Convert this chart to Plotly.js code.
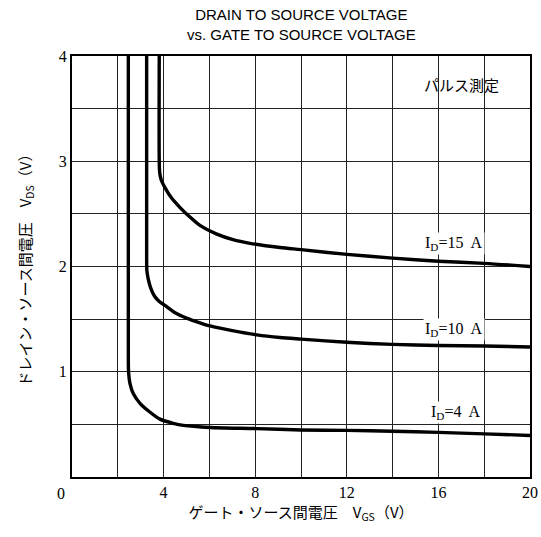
<!DOCTYPE html>
<html>
<head>
<meta charset="utf-8">
<script src="https://cdn.plot.ly/plotly-3.0.1.min.js"></script>
<style>html,body{margin:0;padding:0;background:#fff;}#chart{width:541px;height:537px;}</style>
</head>
<body>
<div id="chart"></div>
<script>
// V_GS (V) and V_DS (V)
const vgs_4A  = [2.46, 2.46, 2.47, 2.53, 2.68, 2.97, 3.41, 3.84, 4.42, 4.86, 6.03, 8.07, 10, 12, 14, 16, 18, 20];
const vds_4A  = [4.0, 1.2, 1.0, 0.89, 0.79, 0.70, 0.615, 0.55, 0.51, 0.49, 0.47, 0.46, 0.447, 0.443, 0.434, 0.424, 0.41, 0.395];

const vgs_10A = [3.26, 3.26, 3.27, 3.33, 3.43, 3.6, 3.8, 4.06, 4.5, 5.0, 5.59, 6.03, 7.0, 8.07, 9.08, 10, 12, 14, 16, 18, 20];
const vds_10A = [4.0, 2.1, 1.96, 1.88, 1.80, 1.72, 1.67, 1.63, 1.56, 1.51, 1.465, 1.435, 1.39, 1.35, 1.325, 1.31, 1.28, 1.26, 1.25, 1.245, 1.235];

const vgs_15A = [3.81, 3.81, 3.83, 3.9, 4.06, 4.35, 4.72, 5.1, 5.59, 6.3, 7.03, 7.77, 9.08, 10, 12, 14, 16, 18, 20];
const vds_15A = [4.0, 3.0, 2.89, 2.82, 2.75, 2.65, 2.56, 2.48, 2.39, 2.31, 2.255, 2.22, 2.18, 2.16, 2.115, 2.08, 2.05, 2.03, 2.0];

const curveLabels = ['I<sub>D</sub>=15  A', 'I<sub>D</sub>=10  A', 'I<sub>D</sub>=4  A'];
const labelX = [16.7, 16.7, 16.77];
const labelY = [2.22, 1.40, 0.61];

const xTickVals = [4, 8, 12, 16, 20];
const yTickVals = [1, 2, 3, 4];
const cornerLabel = '0';
const noteText = 'パルス測定';
const noteX = 17.03, noteY = 3.73;

const titleText = 'DRAIN TO SOURCE VOLTAGE<br>vs. GATE TO SOURCE VOLTAGE';
const xTitle = 'ゲート・ソース間電圧　V<sub>GS</sub>（V）';
const yTitle = 'ドレイン・ソース間電圧　V<sub>DS</sub>（V）';

const lineStyle = {color: '#000', width: 3.4, shape: 'spline', smoothing: 0.8};
const traces = [
  {x: vgs_15A, y: vds_15A, mode: 'lines', line: lineStyle, hoverinfo: 'skip'},
  {x: vgs_10A, y: vds_10A, mode: 'lines', line: lineStyle, hoverinfo: 'skip'},
  {x: vgs_4A,  y: vds_4A,  mode: 'lines', line: lineStyle, hoverinfo: 'skip'}
];

const serif = 'Liberation Serif, DejaVu Serif, serif';
const jp = 'Noto Sans CJK JP, sans-serif';

const annotations = curveLabels.map((t, i) => ({
  x: labelX[i], y: labelY[i], xref: 'x', yref: 'y', text: t, showarrow: false,
  font: {family: serif, size: 16, color: '#000'}, bgcolor: '#fff', borderpad: 1,
  xanchor: 'center', yanchor: 'middle'
}));
annotations.push({x: noteX, y: noteY, xref: 'x', yref: 'y', text: noteText, showarrow: false,
  font: {family: jp, size: 15, color: '#000'}, xanchor: 'center', yanchor: 'middle'});
annotations.push({x: 0, y: 0, xref: 'paper', yref: 'paper', text: cornerLabel, showarrow: false,
  xshift: -11, yshift: -16, font: {family: serif, size: 16, color: '#000'}, xanchor: 'center', yanchor: 'middle'});
annotations.push({x: 0.5, y: 1, xref: 'paper', yref: 'paper', text: titleText, showarrow: false,
  yshift: 11, xanchor: 'center', yanchor: 'bottom',
  font: {family: 'Liberation Sans, Arial, sans-serif', size: 15, color: '#000'}});

const layout = {
  width: 541, height: 537,
  margin: {l: 72, r: 11, t: 56, b: 60},
  paper_bgcolor: '#fff', plot_bgcolor: '#fff',
  showlegend: false,
  xaxis: {
    range: [0, 20], tickvals: xTickVals, ticks: '', showgrid: true, gridcolor: '#222', gridwidth: 1,
    minor: {dtick: 2, showgrid: true, gridcolor: '#222', gridwidth: 1},
    showline: true, mirror: true, linecolor: '#000', linewidth: 2, zeroline: false,
    tickfont: {family: serif, size: 16, color: '#000'},
    title: {text: xTitle, font: {family: jp, size: 15, color: '#000'}, standoff: 0},
    fixedrange: true
  },
  yaxis: {
    range: [0, 4], tickvals: yTickVals, ticks: '', showgrid: true, gridcolor: '#222', gridwidth: 1,
    minor: {dtick: 0.5, showgrid: true, gridcolor: '#222', gridwidth: 1},
    showline: true, mirror: true, linecolor: '#000', linewidth: 2, zeroline: false,
    tickfont: {family: serif, size: 16, color: '#000'},
    title: {text: yTitle, font: {family: jp, size: 15, color: '#000'}, standoff: 24},
    fixedrange: true
  },
  annotations: annotations
};

Plotly.newPlot('chart', traces, layout, {staticPlot: true, displayModeBar: false});
</script>
</body>
</html>
